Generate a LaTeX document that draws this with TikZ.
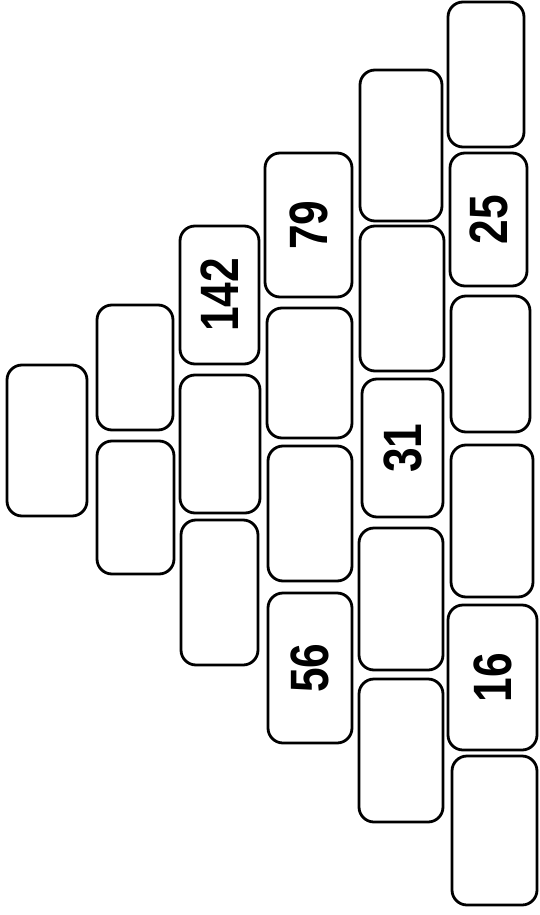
\documentclass[tikz,border=0pt]{standalone}
\usepackage{fontspec}
\setmainfont{Liberation Sans}
\newcommand{\brickno}[1]{\scalebox{0.82}[1]{\fontsize{54}{54}\selectfont\bfseries #1}}
\tikzset{
  brick/.style={draw, line width=2.8pt, rounded corners=15pt, inner sep=0pt},
  numbrick/.style={brick, rotate=90}
}
\begin{document}
\begin{tikzpicture}[x=1pt, y=-1pt]

    % 画布大小
    \useasboundingbox (0,0) rectangle (540,915);

    % 1. 塔尖 (最左一列)
    \node[brick, minimum width=80pt, minimum height=151pt] (c11) at (47,440.5) {};

    % 2. 第二列
    \node[brick, minimum width=76pt, minimum height=125pt] (c21) at (135,367.5) {};
    \node[brick, minimum width=77pt, minimum height=133pt] (c22) at (135.5,507.5) {};

    % 3. 第三列 (含 142)
    \node[numbrick, minimum width=138pt, minimum height=79pt] (c31) at (219.5,295) {\brickno{142}};
    \node[brick, minimum width=80pt, minimum height=138pt] (c32) at (220,444) {};
    \node[brick, minimum width=77pt, minimum height=145pt] (c33) at (219.5,592.5) {};

    % 4. 第四列 (含 79, 56)
    \node[numbrick, minimum width=144pt, minimum height=87pt] (c41) at (308.5,225) {\brickno{79}};
    \node[brick, minimum width=85pt, minimum height=130pt] (c42) at (309.5,373) {};
    \node[brick, minimum width=84pt, minimum height=135pt] (c43) at (310,513.5) {};
    \node[numbrick, minimum width=150pt, minimum height=84pt] (c44) at (310,668) {\brickno{56}};

    % 5. 第五列 (含 31)
    \node[brick, minimum width=82pt, minimum height=151pt] (c51) at (401,145.5) {};
    \node[brick, minimum width=84pt, minimum height=145pt] (c52) at (402,298.5) {};
    \node[numbrick, minimum width=138pt, minimum height=81pt] (c53) at (402.5,448) {\brickno{31}};
    \node[brick, minimum width=84pt, minimum height=142pt] (c54) at (401,599) {};
    \node[brick, minimum width=84pt, minimum height=143pt] (c55) at (401,750.5) {};

    % 6. 底层 (最右一列，含 25, 16)
    \node[brick, minimum width=76pt, minimum height=145pt] (c61) at (486,74.5) {};
    \node[numbrick, minimum width=133pt, minimum height=77pt] (c62) at (488.5,219.5) {\brickno{25}};
    \node[brick, minimum width=79pt, minimum height=136pt] (c63) at (490.5,364) {};
    \node[brick, minimum width=82pt, minimum height=152pt] (c64) at (492,521) {};
    \node[numbrick, minimum width=145pt, minimum height=89pt] (c65) at (492.5,677.5) {\brickno{16}};
    \node[brick, minimum width=85pt, minimum height=149pt] (c66) at (494.5,830.5) {};

\end{tikzpicture}
\end{document}
